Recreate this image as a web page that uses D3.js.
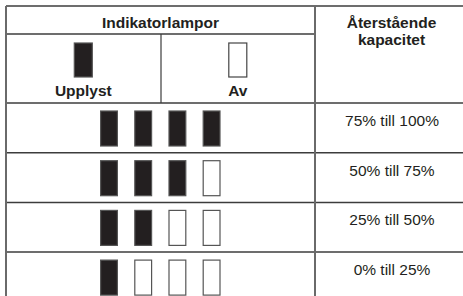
<!DOCTYPE html>
<html>
<head>
<meta charset="utf-8">
<script src="https://cdn.jsdelivr.net/npm/d3@7"></script>
<style>
  html, body { margin: 0; padding: 0; background: #fff; }
  svg { display: block; }
  text { font-family: "Liberation Sans", Arial, sans-serif; fill: #231f20; }
</style>
</head>
<body>
<svg id="chart" width="463" height="296"></svg>
<script>
// ---- data ----
const headerTitle = "Indikatorlampor";
const legendLabels = ["Upplyst", "Av"];
const capacityTitle = ["Återstående", "kapacitet"];
const categories = ["75% till 100%", "50% till 75%", "25% till 50%", "0% till 25%"];
const litCounts = [4, 3, 2, 1];
const lampSlots = [0, 1, 2, 3];

// ---- drawing ----
(function () {
const svg = d3.select("#chart");
const W = 463;
const leftX = 6, colDiv = 315, midDiv = 161;
const topY = 6, headRow = 34, bodyTop = 103;
const rowStep = 49.7;
const lineColor = "#3c3c3c", vColor = "#6a6a6a";
const darkFill = "#231f20";

const y = d3.scaleBand().domain(categories).range([bodyTop, bodyTop + rowStep * categories.length]).padding(0);
const x = d3.scaleBand().domain(lampSlots).range([100, 220.6]).paddingInner(1 - 18 / 34.2).paddingOuter(0);
const lampH = 35, lampOff = 8;

// horizontal lines
svg.append("line").attr("x1", leftX).attr("x2", W).attr("y1", topY).attr("y2", topY)
  .attr("stroke", lineColor).attr("stroke-width", 1.5);
svg.append("line").attr("x1", leftX).attr("x2", colDiv).attr("y1", headRow).attr("y2", headRow)
  .attr("stroke", lineColor).attr("stroke-width", 1.5);
svg.selectAll("line.row").data(categories).join("line").attr("class", "row")
  .attr("x1", leftX).attr("x2", W)
  .attr("y1", d => y(d)).attr("y2", d => y(d))
  .attr("stroke", lineColor).attr("stroke-width", 1.5);

// vertical lines
svg.append("line").attr("x1", leftX).attr("x2", leftX).attr("y1", topY).attr("y2", 296)
  .attr("stroke", vColor).attr("stroke-width", 2);
svg.append("line").attr("x1", colDiv).attr("x2", colDiv).attr("y1", topY).attr("y2", 296)
  .attr("stroke", vColor).attr("stroke-width", 2);
svg.append("line").attr("x1", midDiv).attr("x2", midDiv).attr("y1", headRow).attr("y2", bodyTop)
  .attr("stroke", lineColor).attr("stroke-width", 1.2);

// header texts
svg.append("text").attr("x", (leftX + colDiv) / 2).attr("y", 27.5).attr("text-anchor", "middle")
  .attr("font-size", 15.5).attr("font-weight", "bold").text(headerTitle);
svg.selectAll("text.cap").data(capacityTitle).join("text").attr("class", "cap")
  .attr("x", 391.5).attr("y", (d, i) => 28.3 + i * 16.8).attr("text-anchor", "middle")
  .attr("font-size", 15.5).attr("font-weight", "bold").text(d => d);

// legend
const legendX = [83.3, 237.8];
legendLabels.forEach((lab, i) => {
  svg.append("rect").attr("x", legendX[i] - 9).attr("y", 43).attr("width", 18).attr("height", 34)
    .attr("fill", i === 0 ? darkFill : "#fff").attr("stroke", i === 0 ? "#555" : "#444").attr("stroke-width", 1.2);
  svg.append("text").attr("x", legendX[i]).attr("y", 96).attr("text-anchor", "middle")
    .attr("font-size", 15.5).attr("font-weight", "bold").text(lab);
});

// rows
const rows = svg.selectAll("g.r").data(categories.map((c, i) => ({ c, lit: litCounts[i] })))
  .join("g").attr("class", "r");
rows.selectAll("rect").data(d => lampSlots.map(s => ({ s, on: s < d.lit, c: d.c }))).join("rect")
  .attr("x", d => x(d.s) + 0.6).attr("y", d => y(d.c) + lampOff)
  .attr("width", x.bandwidth() - 1.2).attr("height", lampH)
  .attr("fill", d => d.on ? darkFill : "#fff")
  .attr("stroke", "#555").attr("stroke-width", 1.2);
rows.append("text").attr("x", 392).attr("y", d => y(d.c) + 23)
  .attr("text-anchor", "middle").attr("font-size", 15.5).attr("fill", "#333").text(d => d.c);
})();
</script>
</body>
</html>
